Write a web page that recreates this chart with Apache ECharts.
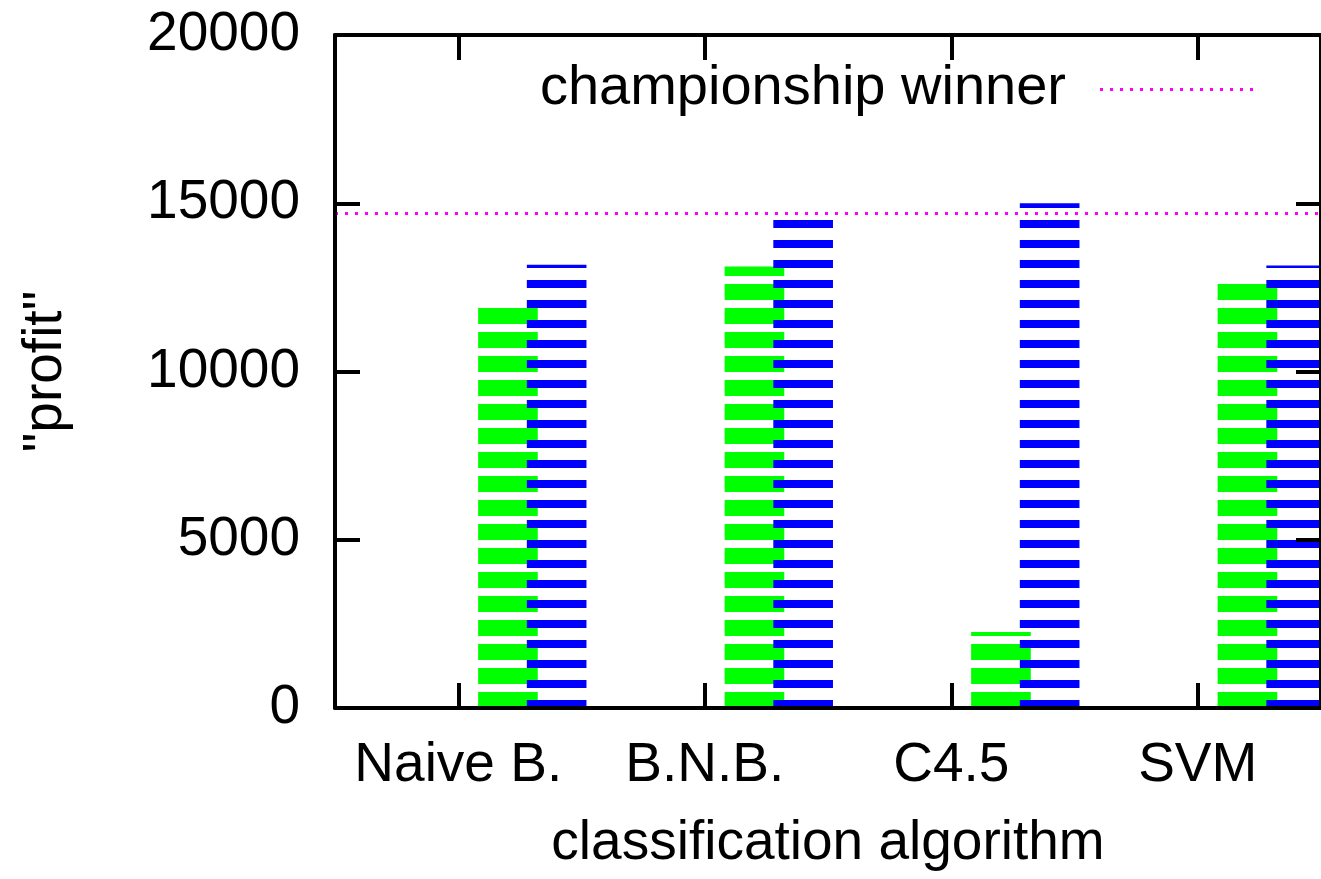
<!DOCTYPE html>
<html>
<head>
<meta charset="utf-8">
<title>profit by classification algorithm</title>
<script src="https://cdn.jsdelivr.net/npm/echarts@6/dist/echarts.min.js"></script>
<style>
  html, body { margin: 0; padding: 0; background: #ffffff; }
  #chart { width: 1321px; height: 879px; }
</style>
</head>
<body>
<div id="chart"></div>
<script>
// ---- data ----
const categories = ['Naive B.', 'B.N.B.', 'C4.5', 'SVM'];
const greenValues = [11890, 13120, 2260, 12610];
const blueValues = [13170, 14600, 15000, 13150];
const championValue = 14700;
const yMin = 0;
const yMax = 20000;
const yStep = 5000;
const legendLabel = 'championship winner';
const xTitle = 'classification algorithm';
const yTitle = '"profit"';

// ---- layout / style ----
const FONT = '"Liberation Sans", Arial, Helvetica, sans-serif';
const FONT_SIZE = 55;
const GRID = { left: 335, top: 35, width: 992, height: 673 };
const BASE_Y = GRID.top + GRID.height;   // pixel row of the zero line

// Horizontal stripe fill, phased so every stripe starts at the zero line.
function stripes(color, period, filled) {
  const c = document.createElement('canvas');
  c.width = 4;
  c.height = period;
  const ctx = c.getContext('2d');
  ctx.fillStyle = color;
  for (let i = 0; i < period; i++) {
    const d = (((BASE_Y - i - 1) % period) + period) % period;
    if (d < filled) ctx.fillRect(0, i, 4, 1);
  }
  return { image: c, repeat: 'repeat' };
}

const greenFill = stripes('#00ff00', 24, 16);
const blueFill = stripes('#0000ff', 20, 8);

// Bars sit to the right of each category tick; offsets are fractions of the band.
function barRenderer(offsetFrac, widthFrac, fill) {
  return function (params, api) {
    const idx = api.value(0);
    const val = api.value(1);
    const top = api.coord([idx, val]);
    const bottom = api.coord([idx, 0]);
    const band = api.size([1, 0])[0];
    return {
      type: 'rect',
      shape: {
        x: top[0] + band * offsetFrac,
        y: top[1],
        width: band * widthFrac,
        height: bottom[1] - top[1]
      },
      style: { fill: fill }
    };
  };
}

const axisLineStyle = { show: true, onZero: false, lineStyle: { color: '#000', width: 4 } };
const tickStyle = { show: true, inside: true, length: 25, lineStyle: { color: '#000', width: 4 } };
const textStyle = { color: '#000', fontSize: FONT_SIZE, fontFamily: FONT };

const chart = echarts.init(document.getElementById('chart'), null, { renderer: 'canvas' });

chart.setOption({
  animation: false,
  backgroundColor: '#ffffff',
  grid: { left: GRID.left, top: GRID.top, width: GRID.width, height: GRID.height, containLabel: false },
  xAxis: [
    {
      type: 'category',
      data: categories,
      position: 'bottom',
      boundaryGap: true,
      z: 5,
      axisLine: axisLineStyle,
      axisTick: Object.assign({ alignWithLabel: true }, tickStyle),
      axisLabel: Object.assign({ margin: 30, interval: 0 }, textStyle),
      splitLine: { show: false },
      name: xTitle,
      nameLocation: 'middle',
      nameGap: 108,
      nameTextStyle: textStyle
    },
    {
      type: 'category',
      data: categories,
      position: 'top',
      boundaryGap: true,
      z: 5,
      axisLine: axisLineStyle,
      axisTick: Object.assign({ alignWithLabel: true }, tickStyle),
      axisLabel: { show: false },
      splitLine: { show: false }
    }
  ],
  yAxis: [
    {
      type: 'value',
      min: yMin,
      max: yMax,
      interval: yStep,
      position: 'left',
      z: 5,
      axisLine: axisLineStyle,
      axisTick: tickStyle,
      axisLabel: Object.assign({ margin: 35, formatter: (v) => String(v) }, textStyle),
      splitLine: { show: false },
      name: yTitle,
      nameLocation: 'middle',
      nameRotate: 90,
      nameGap: 262,
      nameTextStyle: textStyle
    },
    {
      type: 'value',
      min: yMin,
      max: yMax,
      interval: yStep,
      position: 'right',
      z: 5,
      axisLine: axisLineStyle,
      axisTick: tickStyle,
      axisLabel: { show: false },
      splitLine: { show: false }
    }
  ],
  series: [
    {
      name: 'green',
      type: 'custom',
      xAxisIndex: 0,
      yAxisIndex: 0,
      z: 2,
      renderItem: barRenderer(20 / 248, 60 / 248, greenFill),
      data: greenValues.map((v, i) => [i, v])
    },
    {
      name: 'blue',
      type: 'custom',
      xAxisIndex: 0,
      yAxisIndex: 0,
      z: 3,
      renderItem: barRenderer(69 / 248, 60 / 248, blueFill),
      data: blueValues.map((v, i) => [i, v])
    },
    {
      name: legendLabel,
      type: 'line',
      xAxisIndex: 0,
      yAxisIndex: 0,
      data: [],
      z: 4,
      markLine: {
        silent: true,
        symbol: 'none',
        animation: false,
        label: { show: false },
        lineStyle: { color: '#ff00ff', width: 3, type: [3, 7], cap: 'butt', opacity: 1 },
        emphasis: { disabled: true },
        data: [{ yAxis: championValue }]
      }
    }
  ],
  graphic: [
    {
      type: 'text',
      x: 1066,
      y: 89,
      z: 10,
      style: {
        text: legendLabel,
        font: '56px ' + FONT,
        fill: '#000',
        align: 'right',
        textAlign: 'right',
        verticalAlign: 'middle',
        textVerticalAlign: 'middle'
      }
    },
    {
      type: 'line',
      z: 10,
      shape: { x1: 1100, y1: 89.5, x2: 1256, y2: 89.5 },
      style: { stroke: '#ff00ff', lineWidth: 3, lineDash: [3, 7], lineCap: 'butt' }
    }
  ]
});
</script>
</body>
</html>
